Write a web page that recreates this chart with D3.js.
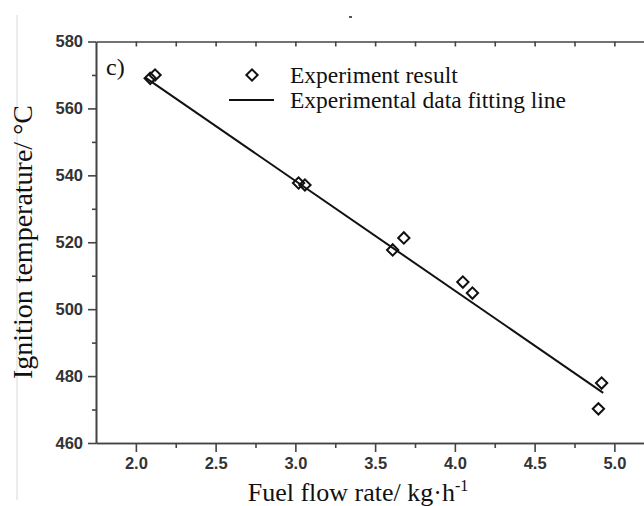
<!DOCTYPE html>
<html lang="en">
<head>
    <meta charset="UTF-8">
    <script src="https://d3js.org/d3.v7.min.js"></script>
    <title>Ignition temperature vs fuel flow rate</title>
    <style>
        body { margin: 0; background: #fff; }
        svg { display: block; overflow: hidden; }
    </style>
</head>
<body>
    <script>
        // Values
        const flowRate = [2.09, 2.12, 3.02, 3.06, 3.61, 3.68, 4.05, 4.11, 4.90, 4.92];
        const ignitionTemp = [569.0, 570.0, 537.7, 537.1, 517.7, 521.3, 508.1, 504.8, 470.2, 477.9];
        // end points of the fitted line
        const fitX = [2.06, 4.93];
        const fitY = [569.2, 475.0];

        const xTicks = [2.0, 2.5, 3.0, 3.5, 4.0, 4.5, 5.0];
        const xMinor = [2.25, 2.75, 3.25, 3.75, 4.25, 4.75];
        const yTicks = [460, 480, 500, 520, 540, 560, 580];
        const yMinor = [470, 490, 510, 530, 550, 570];
        const legendLabels = ["Experiment result", "Experimental data fitting line"];

        const W = 644, H = 506;
        const plotLeft = 96, plotTop = 41.5, plotBottom = 443;
        const axisColor = "#444";
        const serif = "'Liberation Serif', 'Times New Roman', serif";
        const sans = "'Liberation Sans', Arial, sans-serif";

        const svg = d3.select("body").append("svg")
            .attr("width", W)
            .attr("height", H);

        const x = d3.scaleLinear().domain([1.75, 5.25]).range([plotLeft, plotLeft + 3.5 * 159.5]);
        const y = d3.scaleLinear().domain([460, 580]).range([plotBottom, plotTop]);

        // faint scan line at the left and a stray dot at the top
        svg.append("line")
            .attr("x1", 17).attr("x2", 17).attr("y1", 15).attr("y2", 500)
            .attr("stroke", "#d8d8d8").attr("stroke-width", 1);
        svg.append("rect")
            .attr("x", 349).attr("y", 16).attr("width", 3).attr("height", 2)
            .attr("fill", "#555");

        function styleAxis(g) {
            g.select(".domain").attr("stroke", axisColor).attr("stroke-width", 1.6);
            g.selectAll(".tick line").attr("stroke", axisColor).attr("stroke-width", 1.6);
            g.selectAll("text")
                .attr("font-family", sans)
                .attr("font-weight", "bold")
                .attr("font-size", 16.5)
                .attr("fill", "#333");
        }

        // bottom axis
        svg.append("g")
            .attr("transform", `translate(0,${plotBottom})`)
            .call(d3.axisBottom(x).tickValues(xTicks).tickFormat(d3.format(".1f"))
                .tickSize(9).tickSizeOuter(0).tickPadding(5))
            .call(styleAxis);
        svg.append("g")
            .attr("transform", `translate(0,${plotBottom})`)
            .call(d3.axisBottom(x).tickValues(xMinor).tickFormat("").tickSize(5).tickSizeOuter(0))
            .call(styleAxis);

        // top axis, ticks point inward
        svg.append("g")
            .attr("transform", `translate(0,${plotTop})`)
            .call(d3.axisTop(x).tickValues(xTicks.concat(xMinor)).tickFormat("")
                .tickSize(-5).tickSizeOuter(0))
            .call(styleAxis);

        // left axis
        svg.append("g")
            .attr("transform", `translate(${plotLeft},0)`)
            .call(d3.axisLeft(y).tickValues(yTicks).tickSize(8).tickSizeOuter(0).tickPadding(5))
            .call(styleAxis);
        svg.append("g")
            .attr("transform", `translate(${plotLeft},0)`)
            .call(d3.axisLeft(y).tickValues(yMinor).tickFormat("").tickSize(4).tickSizeOuter(0))
            .call(styleAxis);

        // fitted line
        svg.append("path")
            .datum(d3.zip(fitX, fitY))
            .attr("d", d3.line().x(d => x(d[0])).y(d => y(d[1])))
            .attr("fill", "none")
            .attr("stroke", "#111")
            .attr("stroke-width", 2);

        // diamonds
        const diamond = d3.symbol(d3.symbolSquare, 64);
        svg.selectAll(".pt")
            .data(d3.zip(flowRate, ignitionTemp))
            .enter().append("path")
            .attr("class", "pt")
            .attr("d", diamond)
            .attr("transform", d => `translate(${x(d[0])},${y(d[1])}) rotate(45)`)
            .attr("fill", "none")
            .attr("stroke", "#111")
            .attr("stroke-width", 2);

        // panel letter
        svg.append("text")
            .attr("x", 106).attr("y", 75)
            .attr("font-family", serif).attr("font-size", 24)
            .attr("fill", "#111")
            .text("c)");

        // legend
        const legend = svg.append("g");
        legend.append("path")
            .attr("d", diamond)
            .attr("transform", "translate(252,75) rotate(45)")
            .attr("fill", "none").attr("stroke", "#111").attr("stroke-width", 2);
        legend.append("line")
            .attr("x1", 229).attr("x2", 274).attr("y1", 100).attr("y2", 100)
            .attr("stroke", "#111").attr("stroke-width", 2.2);
        legend.selectAll("text")
            .data(legendLabels)
            .enter().append("text")
            .attr("x", 290)
            .attr("y", (d, i) => 75 + i * 25)
            .attr("dy", "0.33em")
            .attr("font-family", serif).attr("font-size", 23.5)
            .attr("fill", "#111")
            .text(d => d);

        // axis titles
        const xt = svg.append("text")
            .attr("x", 358).attr("y", 501)
            .attr("text-anchor", "middle")
            .attr("font-family", serif).attr("font-size", 26)
            .attr("fill", "#111");
        xt.append("tspan").text("Fuel flow rate/ kg\u00b7h");
        xt.append("tspan").attr("dy", -10).attr("font-size", 16).text("-1");

        svg.append("text")
            .attr("transform", "translate(32,242) rotate(-90)")
            .attr("text-anchor", "middle")
            .attr("font-family", serif).attr("font-size", 28)
            .attr("fill", "#111")
            .text("Ignition temperature/ \u00b0C");
    </script>
</body>
</html>
